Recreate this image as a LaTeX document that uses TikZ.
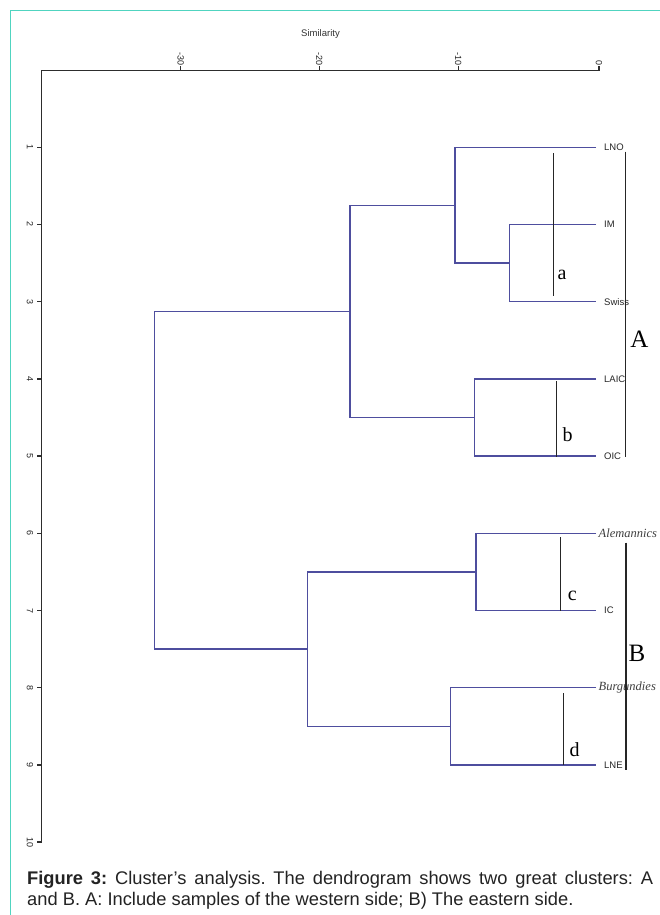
\documentclass[tikz,border=0pt]{standalone}
\usepackage{fontspec}
\setmainfont{Liberation Sans}
\newfontfamily\tnr{Liberation Serif}
\definecolor{dend}{RGB}{78,78,158}
\definecolor{framec}{RGB}{80,212,192}
\definecolor{axisc}{RGB}{45,45,45}
\definecolor{capc}{RGB}{35,35,35}
\frenchspacing
\begin{document}
\begin{tikzpicture}[x=1pt,y=-1pt,
  dline/.style={draw=dend, line width=1.4pt},
  brk/.style={draw=black!85, line width=1.2pt},
  axisline/.style={draw=axisc, line width=1.4pt},
  leaflab/.style={anchor=west, inner sep=0pt, font=\fontsize{9.5}{10}\selectfont, text=black!85},
  itlab/.style={anchor=west, inner sep=0pt, font=\tnr\itshape\fontsize{12.5}{13}\selectfont, text=black!75},
  ticklab/.style={inner sep=0pt, rotate=-90, font=\fontsize{9}{9}\selectfont, text=black!85},
  grp/.style={anchor=base, inner sep=0pt, font=\tnr\fontsize{20}{22}\selectfont},
  biggrp/.style={anchor=base, inner sep=0pt, font=\tnr\fontsize{25}{27}\selectfont},
  captext/.style={anchor=base west, inner sep=0pt, font=\fontsize{18.3}{21}\selectfont, text=capc}
]
\useasboundingbox (0,0) rectangle (660,915);
\fill[white] (0,0) rectangle (660,915);
% frame
\draw[draw=framec, line width=1.5pt] (10.7,915) -- (10.7,10.7) -- (660,10.7);

% title
\node[inner sep=0pt, font=\fontsize{9.5}{10}\selectfont, text=black!80] (title) at (320.5,34) {Similarity};

% axes
\coordinate (corner) at (41.7,70.7);
\coordinate (xend) at (599,70.7);
\coordinate (yend) at (41.7,842.1);
\draw[axisline] (yend) -- (corner) -- (xend);
% top ticks
\foreach \v/\x in {30/180.7,20/319.3,10/458.3} {
  \coordinate (t\v) at (\x,70.7);
  \draw[axisline] (t\v) -- ++(0,-4.5);
  \node[ticklab, anchor=east] (tl\v) at (\x,65.5) {-\v};
}
\coordinate (t0) at (599,70.7);
\draw[axisline] (t0) -- ++(0,-4.5);
\node[ticklab, anchor=east] (tl0) at (599,65.5) {0};
% left ticks
\foreach \k in {1,...,10} {
  \pgfmathsetmacro{\yy}{147.3+77.2*(\k-1)}
  \coordinate (s\k) at (41.7,\yy);
  \draw[axisline] (s\k) -- ++(-4.5,0);
  \node[ticklab] (sl\k) at (30,\yy) {\k};
}

% leaf line ends
\coordinate (LNO) at (596,147.3);
\coordinate (IM) at (596,224.5);
\coordinate (Swiss) at (596,301.7);
\coordinate (LAIC) at (596,378.9);
\coordinate (OIC) at (596,456.1);
\coordinate (Alem) at (596,533.3);
\coordinate (IC) at (596,610.5);
\coordinate (Burg) at (596,687.7);
\coordinate (LNE) at (596,764.9);
% leaf labels
\node[leaflab] (nLNO) at (604,147.3) {LNO};
\node[leaflab] (nIM) at (604,224.5) {IM};
\node[leaflab] (nSwiss) at (604,301.7) {Swiss};
\node[leaflab] (nLAIC) at (604,378.9) {LAIC};
\node[leaflab] (nOIC) at (604,456.1) {OIC};
\node[itlab] (nAlem) at (598.5,533.3) {Alemannics};
\node[leaflab] (nIC) at (604,610.5) {IC};
\node[itlab] (nBurg) at (598.5,687.7) {Burgundies};
\node[leaflab] (nLNE) at (604,764.9) {LNE};

% merges
\coordinate (m1) at (509.3,263.1);
\coordinate (m2) at (455,205.2);
\coordinate (m3) at (474.7,417.5);
\coordinate (m4) at (350,311.35);
\coordinate (m5) at (476,571.9);
\coordinate (m6) at (450.7,726.3);
\coordinate (m7) at (307.7,649.1);
\coordinate (root) at (154.3,480.2);

\draw[dline] (IM) -| (m1) |- (Swiss);
\draw[dline] (LNO) -| (m2) |- (m1);
\draw[dline] (LAIC) -| (m3) |- (OIC);
\draw[dline] (m2) -| (m4) |- (m3);
\draw[dline] (Alem) -| (m5) |- (IC);
\draw[dline] (Burg) -| (m6) |- (LNE);
\draw[dline] (m5) -| (m7) |- (m6);
\draw[dline] (m4) -| (root) |- (m7);

% brackets
\coordinate (a1) at (553.3,153.3); \coordinate (a2) at (553.3,295.7);
\coordinate (b1) at (556.7,381); \coordinate (b2) at (556.7,457.3);
\coordinate (c1) at (560.7,537.3); \coordinate (c2) at (560.7,610.5);
\coordinate (d1) at (563.3,693.3); \coordinate (d2) at (563.3,764.9);
\coordinate (A1) at (625.3,151.7); \coordinate (A2) at (625.3,456.7);
\coordinate (B1) at (626,542.7); \coordinate (B2) at (626,770);
\draw[brk] (a1) -- (a2);
\draw[brk] (b1) -- (b2);
\draw[brk] (c1) -- (c2);
\draw[brk] (d1) -- (d2);
\draw[brk] (A1) -- (A2);
\draw[brk] (B1) -- (B2);
\node[grp] (la) at (562,279) {a};
\node[grp] (lb) at (567.7,441.7) {b};
\node[grp] (lc) at (572.3,600.7) {c};
\node[grp] (ld) at (574.5,756.7) {d};
\node[biggrp] (lA) at (639.3,347.3) {A};
\node[biggrp] (lB) at (637,661.7) {B};

% caption
\node[captext] (cap1) at (27,884) {\makebox[626pt][s]{\textbf{Figure 3:} Cluster’s analysis. The dendrogram shows two great clusters: A}};
\node[captext] (cap2) at (27,905) {and B. A: Include samples of the western side; B) The eastern side.};
\end{tikzpicture}
\end{document}
